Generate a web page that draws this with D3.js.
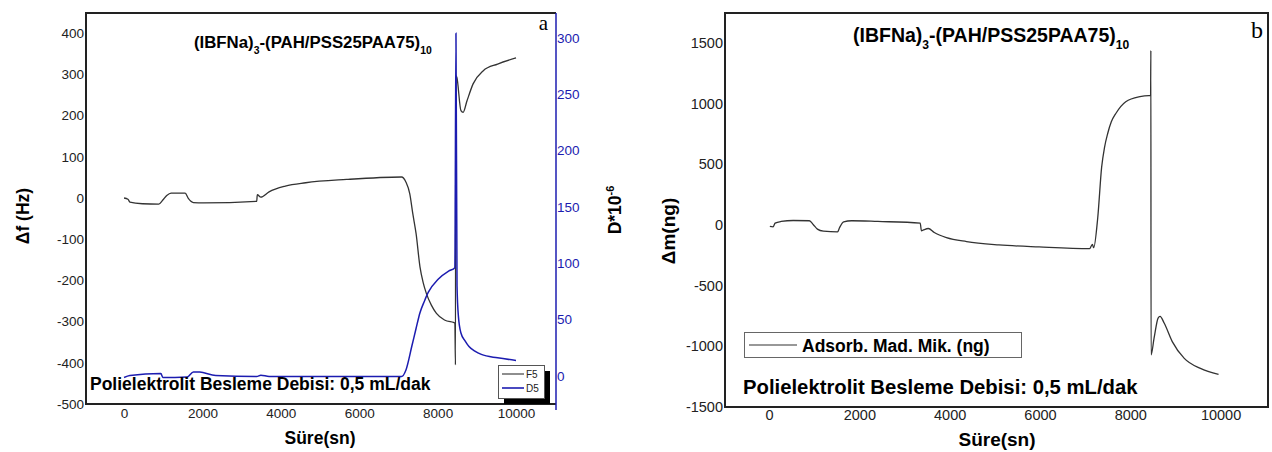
<!DOCTYPE html>
<html>
<head>
<meta charset="utf-8">
<script src="https://cdn.jsdelivr.net/npm/d3@7"></script>
<style>
  body { margin: 0; background: #fff; }
  svg text { font-family: "Liberation Sans", Arial, sans-serif; }
</style>
</head>
<body>
<div id="chart"></div>
<script>
// ---- data ----
// panel a: frequency shift F5 (left axis) and dissipation D5 (right axis)
var f5Time = [0,100,150,470,885,990,1090,1200,1560,1640,1770,2030,3385,3400,3490,3700,4115,4635,5680,7080,7190,7290,7370,7450,7550,7630,7710,7840,7970,8175,8405,8440,8455,8462,8490,8595,8650,8750,8905,9165,9530,10000];
var f5Val  = [0,-3,-10,-14,-15,-5,6,12,12,-1,-11,-12,-8,8,2,15,29,37,45,51,39,10,-40,-86,-167,-205,-231,-260,-280,-296,-302,-303,-405,297,293,212,208,236,277,309,325,340];

var d5Time = [0,150,940,990,1610,1770,1930,2340,3385,3490,3700,7080,7190,7340,7450,7550,7660,7760,8020,8280,8440,8468,8495,8530,8595,8700,8800,8950,9115,9530,10000];
var d5Val  = [-1.5,0.3,2,-1.5,-1,3.5,3.3,0.3,-0.6,0.6,-0.6,-0.6,5,26,42,56,66,74,86,93,96,304,80,53,38,31,26,22,19,16,13.7];

// panel b: adsorbed mass
var dmTime = [18,90,134,268,536,893,982,1071,1205,1518,1563,1652,1830,2410,3348,3375,3410,3527,3660,3930,4375,5090,5980,7100,7160,7190,7280,7366,7430,7500,7580,7680,7900,8214,8410,8450,8456,8460,8527,8616,8660,8750,8930,9196,9554,9955];
var dmVal  = [-12,-15,15,29,37,35,2,-34,-51,-57,-21,26,35,29,15,-48,-43,-29,-62,-104,-137,-164,-181,-195,-159,-187,62,477,640,754,850,919,1016,1058,1066,1066,1439,-1071,-933,-767,-753,-808,-961,-1099,-1182,-1231];

var xTicks = [0,2000,4000,6000,8000,10000];
var fTicks = [-500,-400,-300,-200,-100,0,100,200,300,400];
var dTicks = [0,50,100,150,200,250,300];
var mTicks = [-1500,-1000,-500,0,500,1000,1500];

var legendA = ["F5","D5"];
var legendB = "Adsorb. Mad. Mik. (ng)";
var noteText = "Polielektrolit Besleme Debisi: 0,5 mL/dak";

var blue = "#1c1cb0";
var plain = function(d){ return String(d); };

var svg = d3.select("#chart")
    .append("svg")
    .attr("width", 1272)
    .attr("height", 452);

function zip(t, v){
    return t.map(function(d, i){ return [d, v[i]]; });
}

// title with subscripts
function drawTitle(g, x, y, size){
    var t = g.append("text")
        .attr("x", x).attr("y", y)
        .attr("font-size", size).attr("font-weight", "bold");
    t.append("tspan").text("(IBFNa)");
    t.append("tspan").attr("dy", size*0.35).attr("font-size", size*0.62).text("3");
    t.append("tspan").attr("dy", -size*0.35).text("-(PAH/PSS25PAA75)");
    t.append("tspan").attr("dy", size*0.35).attr("font-size", size*0.62).text("10");
}

// ================= panel a =================
var a = { left: 86, right: 556, top: 13, bottom: 404 };

var xa = d3.scaleLinear().domain([-970, 11020]).range([a.left, a.right]);
var ya = d3.scaleLinear().domain([-500, 449]).range([a.bottom, a.top]);
var yd = d3.scaleLinear().domain([-25, 322]).range([a.bottom, a.top]);

// axes
var axL = svg.append("g")
    .attr("transform", "translate(" + a.left + ",0)")
    .call(d3.axisLeft(ya).tickValues(fTicks).tickFormat(plain).tickSize(0).tickPadding(2));
axL.select(".domain").remove();
axL.selectAll("text").attr("font-size", 13.5).attr("fill", "#222");

var axB = svg.append("g")
    .attr("transform", "translate(0," + a.bottom + ")")
    .call(d3.axisBottom(xa).tickValues(xTicks).tickFormat(plain).tickSize(0).tickPadding(4));
axB.select(".domain").remove();
axB.selectAll("text").attr("font-size", 13.5).attr("fill", "#222");

var axR = svg.append("g")
    .attr("transform", "translate(" + a.right + ",0)")
    .call(d3.axisRight(yd).tickValues(dTicks).tickFormat(plain).tickSize(0).tickPadding(1));
axR.select(".domain").remove();
axR.selectAll("text").attr("font-size", 13.5).attr("fill", blue);

// frame
svg.append("path")
    .attr("d", "M" + a.right + "," + a.top + "H" + a.left + "V" + a.bottom + "H" + a.right)
    .attr("fill", "none").attr("stroke", "#222").attr("stroke-width", 2);
svg.append("line")
    .attr("x1", a.right).attr("x2", a.right)
    .attr("y1", a.top).attr("y2", a.bottom + 6)
    .attr("stroke", blue).attr("stroke-width", 1.5);

var lineA = d3.line()
    .curve(d3.curveMonotoneX)
    .x(function(d){ return xa(d[0]); })
    .y(function(d){ return ya(d[1]); });
var lineD = d3.line()
    .curve(d3.curveMonotoneX)
    .x(function(d){ return xa(d[0]); })
    .y(function(d){ return yd(d[1]); });

svg.append("path")
    .datum(zip(f5Time, f5Val))
    .attr("d", lineA)
    .attr("fill", "none").attr("stroke", "#333").attr("stroke-width", 1.3);

svg.append("path")
    .datum(zip(d5Time, d5Val))
    .attr("d", lineD)
    .attr("fill", "none").attr("stroke", blue).attr("stroke-width", 1.5);

drawTitle(svg, 194, 48, 16.8);

svg.append("text")
    .attr("x", 548).attr("y", 30)
    .attr("text-anchor", "end")
    .attr("font-size", 21)
    .style("font-family", "'Liberation Serif', 'Times New Roman', serif")
    .text("a");

svg.append("text")
    .attr("x", 90).attr("y", 390)
    .attr("font-size", 17.5).attr("font-weight", "bold")
    .text(noteText);

// legend a
svg.append("rect")
    .attr("x", 504).attr("y", 371).attr("width", 46).attr("height", 33)
    .attr("fill", "#000");
svg.append("rect")
    .attr("x", 498.5).attr("y", 365.5).attr("width", 46).attr("height", 33)
    .attr("fill", "#fff").attr("stroke", "#555").attr("stroke-width", 1);
legendA.forEach(function(name, i){
    var yy = 374 + i * 14;
    svg.append("line")
        .attr("x1", 502).attr("x2", 524).attr("y1", yy).attr("y2", yy)
        .attr("stroke", i == 0 ? "#444" : blue).attr("stroke-width", i == 0 ? 1.2 : 1.6);
    svg.append("text")
        .attr("x", 526).attr("y", yy + 3.5)
        .attr("font-size", 10).attr("fill", "#222")
        .text(name);
});

// axis labels
svg.append("text")
    .attr("transform", "translate(29,216) rotate(-90)")
    .attr("text-anchor", "middle")
    .attr("font-size", 17.5).attr("font-weight", "bold")
    .text("\u0394f (Hz)");

var dl = svg.append("text")
    .attr("transform", "translate(621,210) rotate(-90)")
    .attr("text-anchor", "middle")
    .attr("font-size", 17.5).attr("font-weight", "bold");
dl.append("tspan").text("D*10");
dl.append("tspan").attr("dy", -7).attr("font-size", 11).text("-6");

svg.append("text")
    .attr("x", 320).attr("y", 444)
    .attr("text-anchor", "middle")
    .attr("font-size", 17.5).attr("font-weight", "bold")
    .text("S\u00fcre(sn)");

// ================= panel b =================
var b = { left: 725, right: 1268, top: 13, bottom: 407 };

var xb = d3.scaleLinear().domain([-975, 11050]).range([b.left, b.right]);
var yb = d3.scaleLinear().domain([-1500, 1747]).range([b.bottom, b.top]);

var bxL = svg.append("g")
    .attr("transform", "translate(" + b.left + ",0)")
    .call(d3.axisLeft(yb).tickValues(mTicks).tickFormat(plain).tickSize(0).tickPadding(2));
bxL.select(".domain").remove();
bxL.selectAll("text").attr("font-size", 14.5).attr("fill", "#222");

var bxB = svg.append("g")
    .attr("transform", "translate(0," + b.bottom + ")")
    .call(d3.axisBottom(xb).tickValues(xTicks).tickFormat(plain).tickSize(0).tickPadding(3));
bxB.select(".domain").remove();
bxB.selectAll("text").attr("font-size", 14.5).attr("fill", "#222");

svg.append("rect")
    .attr("x", b.left).attr("y", b.top)
    .attr("width", b.right - b.left).attr("height", b.bottom - b.top)
    .attr("fill", "none").attr("stroke", "#222").attr("stroke-width", 2);

var lineB = d3.line()
    .curve(d3.curveMonotoneX)
    .x(function(d){ return xb(d[0]); })
    .y(function(d){ return yb(d[1]); });

svg.append("path")
    .datum(zip(dmTime, dmVal))
    .attr("d", lineB)
    .attr("fill", "none").attr("stroke", "#333").attr("stroke-width", 1.3);

drawTitle(svg, 853, 42, 19.5);

svg.append("text")
    .attr("x", 1263).attr("y", 38)
    .attr("text-anchor", "end")
    .attr("font-size", 24)
    .style("font-family", "'Liberation Serif', 'Times New Roman', serif")
    .text("b");

// legend b
svg.append("rect")
    .attr("x", 744.5).attr("y", 332.5).attr("width", 277).attr("height", 25)
    .attr("fill", "#fff").attr("stroke", "#666").attr("stroke-width", 1);
svg.append("line")
    .attr("x1", 749).attr("x2", 797).attr("y1", 345).attr("y2", 345)
    .attr("stroke", "#333").attr("stroke-width", 1.2);
svg.append("text")
    .attr("x", 802).attr("y", 351.5)
    .attr("font-size", 17.5).attr("font-weight", "bold")
    .text(legendB);

svg.append("text")
    .attr("x", 743).attr("y", 394)
    .attr("font-size", 20.3).attr("font-weight", "bold")
    .text(noteText);

svg.append("text")
    .attr("transform", "translate(675,231) rotate(-90)")
    .attr("text-anchor", "middle")
    .attr("font-size", 19).attr("font-weight", "bold")
    .text("\u0394m(ng)");

svg.append("text")
    .attr("x", 997).attr("y", 446)
    .attr("text-anchor", "middle")
    .attr("font-size", 19).attr("font-weight", "bold")
    .text("S\u00fcre(sn)");
</script>
</body>
</html>
